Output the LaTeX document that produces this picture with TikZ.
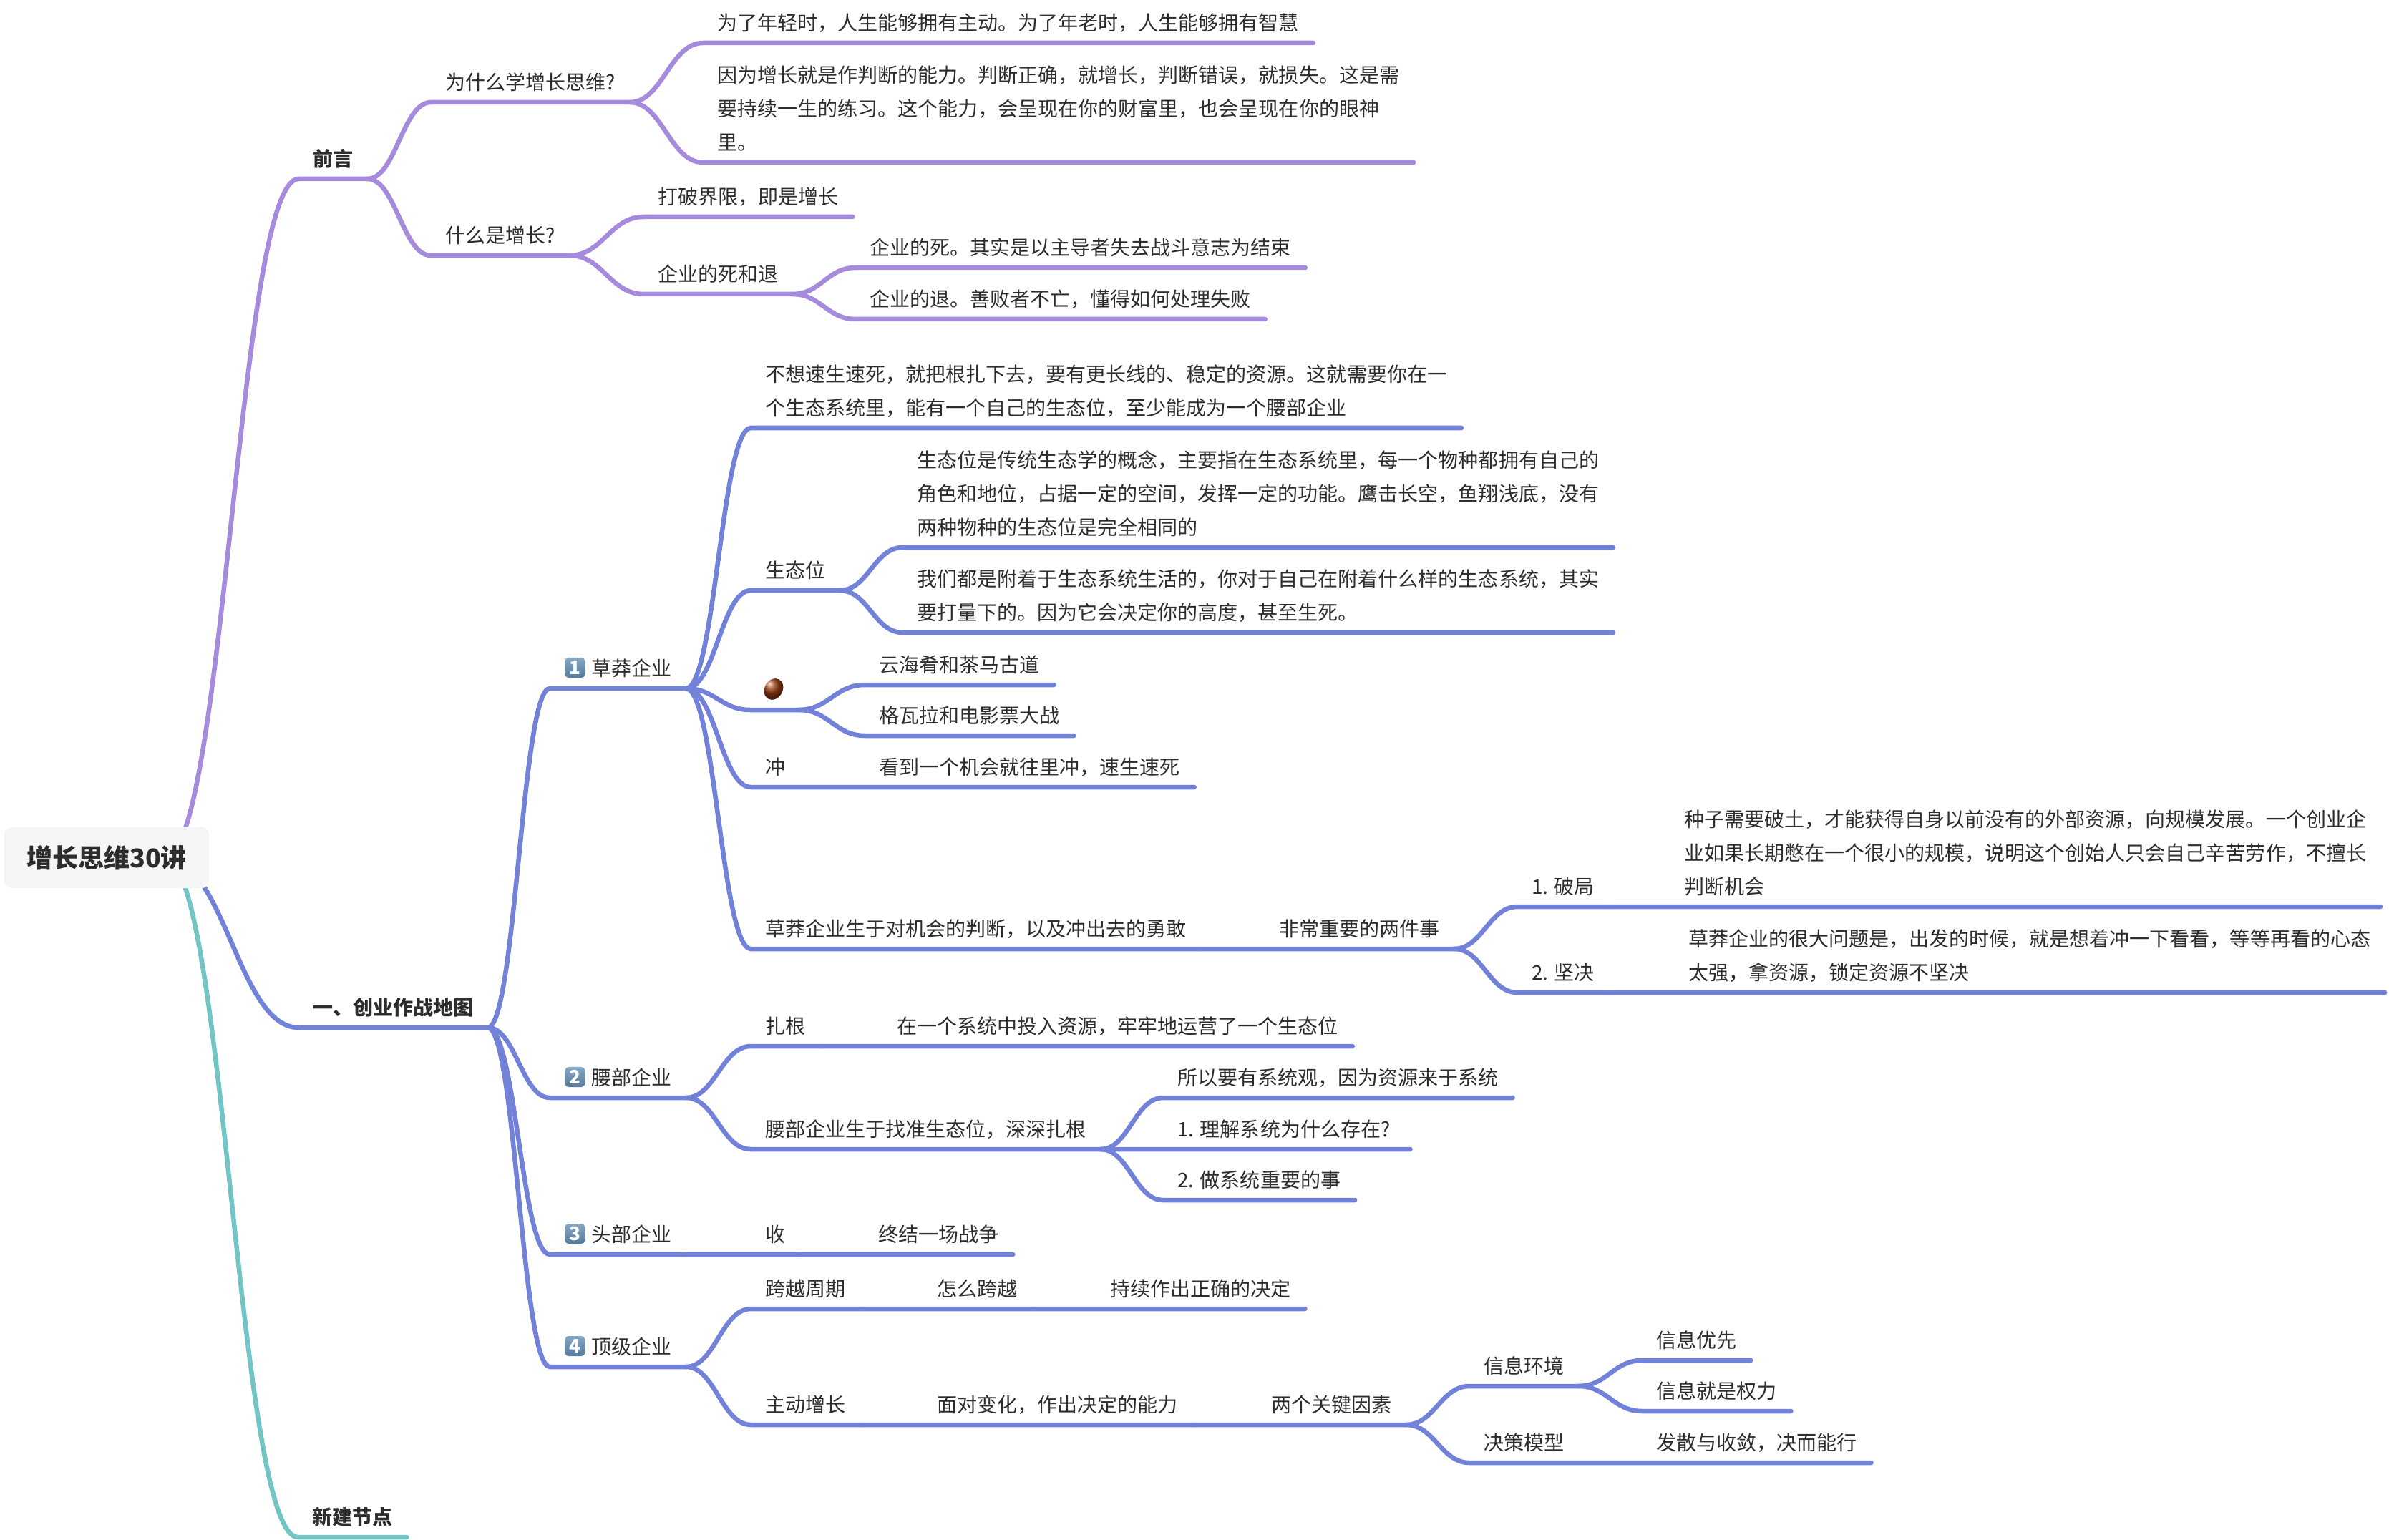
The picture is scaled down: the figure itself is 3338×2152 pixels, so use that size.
\documentclass[tikz,border=0pt]{standalone}
\usepackage{fontspec}
\setmainfont{Noto Sans CJK SC}
\usepackage{tikz}
\usetikzlibrary{positioning,calc,backgrounds,shapes.geometric}
\usepackage{xcolor}
\definecolor{inkGray}{HTML}{2D2D2D}
\definecolor{rootGray}{HTML}{F5F5F5}
\definecolor{lilac}{HTML}{A68BDD}
\definecolor{periwinkle}{HTML}{7382D9}
\definecolor{tealLine}{HTML}{73C4C4}
\definecolor{keyTop}{HTML}{86A8C6}
\definecolor{keyBottom}{HTML}{557A9C}
\definecolor{nutBrown}{HTML}{9A3F16}

% curve out of a parent, then the line under the child
\newcommand{\branch}[2]{
    \draw[branchStyle] (#1)
        .. controls ($(#1)!0.45!(#2.south west |- #1)$) and ($(#2.south west)!0.45!(#1 |- #2.south west)$)
        .. (#2.south west) -- (#2.south east);
}

\begin{document}
\begin{tikzpicture}[
    x=0.01cm, y=-0.01cm,
    rootStyle/.style={
        rectangle, rounded corners=0.1cm, fill=rootGray, text=inkGray,
        minimum width=2.86cm, minimum height=0.85cm, inner sep=0pt,
        font=\fontsize{10.24}{13}\selectfont\bfseries
    },
    itemStyle/.style={
        anchor=south west, align=left, text=inkGray, outer sep=0pt,
        inner xsep=0.2cm, inner ysep=0.035cm, xshift=-0.008cm,
        font=\fontsize{7.97}{13.4}\selectfont, execute at end node=\strut
    },
    mainStyle/.style={itemStyle, font=\fontsize{7.97}{13.4}\selectfont\bfseries},
    keyStyle/.style={
        rectangle, rounded corners=0.05cm, top color=keyTop, bottom color=keyBottom,
        text=white, minimum size=0.28cm, inner sep=0pt,
        font=\fontsize{7.4}{8}\selectfont\bfseries
    },
    nutStyle/.style={
        ellipse, ball color=nutBrown, minimum width=0.31cm, minimum height=0.25cm,
        inner sep=0pt, rotate=60
    },
    branchStyle/.style={line width=0.065cm, line cap=round, line join=round}
]
    \useasboundingbox (0,0) rectangle (3338,2152);

    % Root
    \node[rootStyle] (root) at (149,1198.5) {增长思维30讲};
    \coordinate (hub) at (230,1199);

    % Preface
    \node[mainStyle] (lead) at (418,250) {前言};
    \node[itemStyle] (why) at (603,143) {为什么学增长思维?};
    \node[itemStyle] (whatIs) at (603,357) {什么是增长?};
    \node[itemStyle] (young) at (983,60) {为了年轻时，人生能够拥有主动。为了年老时，人生能够拥有智慧};
    \node[itemStyle] (reason) at (983,227) {
        因为增长就是作判断的能力。判断正确，就增长，判断错误，就损失。这是需\\
        要持续一生的练习。这个能力，会呈现在你的财富里，也会呈现在你的眼神\\
        里。};
    \node[itemStyle] (limits) at (900,303) {打破界限，即是增长};
    \node[itemStyle] (death) at (900,411) {企业的死和退};
    \node[itemStyle] (dies) at (1196,374) {企业的死。其实是以主导者失去战斗意志为结束};
    \node[itemStyle] (retreats) at (1196,446) {企业的退。善败者不亡，懂得如何处理失败};

    % Map
    \node[mainStyle] (map) at (418,1436) {一、创业作战地图};

    % Grass-roots firms
    \node[itemStyle] (wildCo) at (769,962) {\hspace*{0.38cm}草莽企业};
    \node[keyStyle] (keyOne) at (803.5,933) {1};
    \node[itemStyle] (rooted) at (1050,598) {
        不想速生速死，就把根扎下去，要有更长线的、稳定的资源。这就需要你在一\\
        个生态系统里，能有一个自己的生态位，至少能成为一个腰部企业};
    \node[itemStyle] (niche) at (1050,825) {生态位};
    \node[itemStyle] (nicheDef) at (1262,765) {
        生态位是传统生态学的概念，主要指在生态系统里，每一个物种都拥有自己的\\
        角色和地位，占据一定的空间，发挥一定的功能。鹰击长空，鱼翔浅底，没有\\
        两种物种的生态位是完全相同的};
    \node[itemStyle] (nicheLive) at (1262,884) {
        我们都是附着于生态系统生活的，你对于自己在附着什么样的生态系统，其实\\
        要打量下的。因为它会决定你的高度，甚至生死。};
    \node[itemStyle] (nutItem) at (1049,992) {\phantom{冲}};
    \node[nutStyle] (nut) at (1081,963) {};
    \node[itemStyle] (yunhai) at (1209,957) {云海肴和茶马古道};
    \node[itemStyle] (gewara) at (1209,1028) {格瓦拉和电影票大战};
    \node[itemStyle] (rush) at (1050,1100) {冲};
    \node[itemStyle] (rushText) at (1209,1100) {看到一个机会就往里冲，速生速死};
    \node[itemStyle] (judge) at (1050,1326) {草莽企业生于对机会的判断，以及冲出去的勇敢};
    \node[itemStyle] (twoThings) at (1768,1326) {非常重要的两件事};
    \node[itemStyle] (breakOut) at (2121,1267) {1. 破局};
    \node[itemStyle] (seed) at (2334,1267) {
        种子需要破土，才能获得自身以前没有的外部资源，向规模发展。一个创业企\\
        业如果长期憋在一个很小的规模，说明这个创始人只会自己辛苦劳作，不擅长\\
        判断机会};
    \node[itemStyle] (firm) at (2121,1387) {2. 坚决};
    \node[itemStyle] (problem) at (2340,1387) {
        草莽企业的很大问题是，出发的时候，就是想着冲一下看看，等等再看的心态\\
        太强，拿资源，锁定资源不坚决};

    % Waist firms
    \node[itemStyle] (waistCo) at (769,1534) {\hspace*{0.38cm}腰部企业};
    \node[keyStyle] (keyTwo) at (803.5,1505) {2};
    \node[itemStyle] (rootIn) at (1050,1462) {扎根};
    \node[itemStyle] (invest) at (1234,1462) {在一个系统中投入资源，牢牢地运营了一个生态位};
    \node[itemStyle] (waistGrow) at (1050,1606) {腰部企业生于找准生态位，深深扎根};
    \node[itemStyle] (sysView) at (1626,1534) {所以要有系统观，因为资源来于系统};
    \node[itemStyle] (sysWhy) at (1626,1606) {1. 理解系统为什么存在?\hspace*{0.08cm}};
    \node[itemStyle] (sysDo) at (1626,1677) {2. 做系统重要的事};

    % Head firms
    \node[itemStyle] (headCo) at (769,1753) {\hspace*{0.38cm}头部企业};
    \node[keyStyle] (keyThree) at (803.5,1724) {3};
    \node[itemStyle] (harvest) at (1050,1753) {收};
    \node[itemStyle] (endWar) at (1208,1753) {终结一场战争};

    % Top firms
    \node[itemStyle] (topCo) at (769,1910) {\hspace*{0.38cm}顶级企业};
    \node[keyStyle] (keyFour) at (803.5,1881) {4};
    \node[itemStyle] (cycle) at (1050,1829) {跨越周期};
    \node[itemStyle] (crossHow) at (1290,1829) {怎么跨越};
    \node[itemStyle] (decide) at (1532,1829) {持续作出正确的决定};
    \node[itemStyle] (active) at (1050,1991) {主动增长};
    \node[itemStyle] (faceChange) at (1290,1991) {面对变化，作出决定的能力};
    \node[itemStyle] (twoFactors) at (1757,1991) {两个关键因素};
    \node[itemStyle] (infoEnv) at (2054,1937) {信息环境};
    \node[itemStyle] (infoFirst) at (2295,1901) {信息优先};
    \node[itemStyle] (infoPower) at (2295,1972) {信息就是权力};
    \node[itemStyle] (decModel) at (2054,2044) {决策模型};
    \node[itemStyle] (diverge) at (2295,2044) {发散与收敛，决而能行};

    % New node
    \node[mainStyle] (newNode) at (417,2148) {新建节点};

    % Branches
    \begin{scope}[on background layer]
    \begin{scope}[color=lilac]
        \branch{hub}{lead}
        \branch{lead.south east}{why}
        \branch{lead.south east}{whatIs}
        \branch{why.south east}{young}
        \branch{why.south east}{reason}
        \branch{whatIs.south east}{limits}
        \branch{whatIs.south east}{death}
        \branch{death.south east}{dies}
        \branch{death.south east}{retreats}
    \end{scope}

    \begin{scope}[color=periwinkle]
        \branch{hub}{map}
        \branch{map.south east}{wildCo}
        \branch{map.south east}{waistCo}
        \branch{map.south east}{headCo}
        \branch{map.south east}{topCo}
        \branch{wildCo.south east}{rooted}
        \branch{wildCo.south east}{niche}
        \branch{wildCo.south east}{nutItem}
        \branch{wildCo.south east}{rush}
        \branch{wildCo.south east}{judge}
        \branch{niche.south east}{nicheDef}
        \branch{niche.south east}{nicheLive}
        \branch{nutItem.south east}{yunhai}
        \branch{nutItem.south east}{gewara}
        \branch{rush.south east}{rushText}
        \branch{judge.south east}{twoThings}
        \branch{twoThings.south east}{breakOut}
        \branch{twoThings.south east}{firm}
        \branch{breakOut.south east}{seed}
        \branch{firm.south east}{problem}
        \branch{waistCo.south east}{rootIn}
        \branch{waistCo.south east}{waistGrow}
        \branch{rootIn.south east}{invest}
        \branch{waistGrow.south east}{sysView}
        \branch{waistGrow.south east}{sysWhy}
        \branch{waistGrow.south east}{sysDo}
        \branch{headCo.south east}{harvest}
        \branch{harvest.south east}{endWar}
        \branch{topCo.south east}{cycle}
        \branch{topCo.south east}{active}
        \branch{cycle.south east}{crossHow}
        \branch{crossHow.south east}{decide}
        \branch{active.south east}{faceChange}
        \branch{faceChange.south east}{twoFactors}
        \branch{twoFactors.south east}{infoEnv}
        \branch{twoFactors.south east}{decModel}
        \branch{infoEnv.south east}{infoFirst}
        \branch{infoEnv.south east}{infoPower}
        \branch{decModel.south east}{diverge}
    \end{scope}

    \begin{scope}[color=tealLine]
        \branch{hub}{newNode}
    \end{scope}
    \end{scope}
\end{tikzpicture}
\end{document}
